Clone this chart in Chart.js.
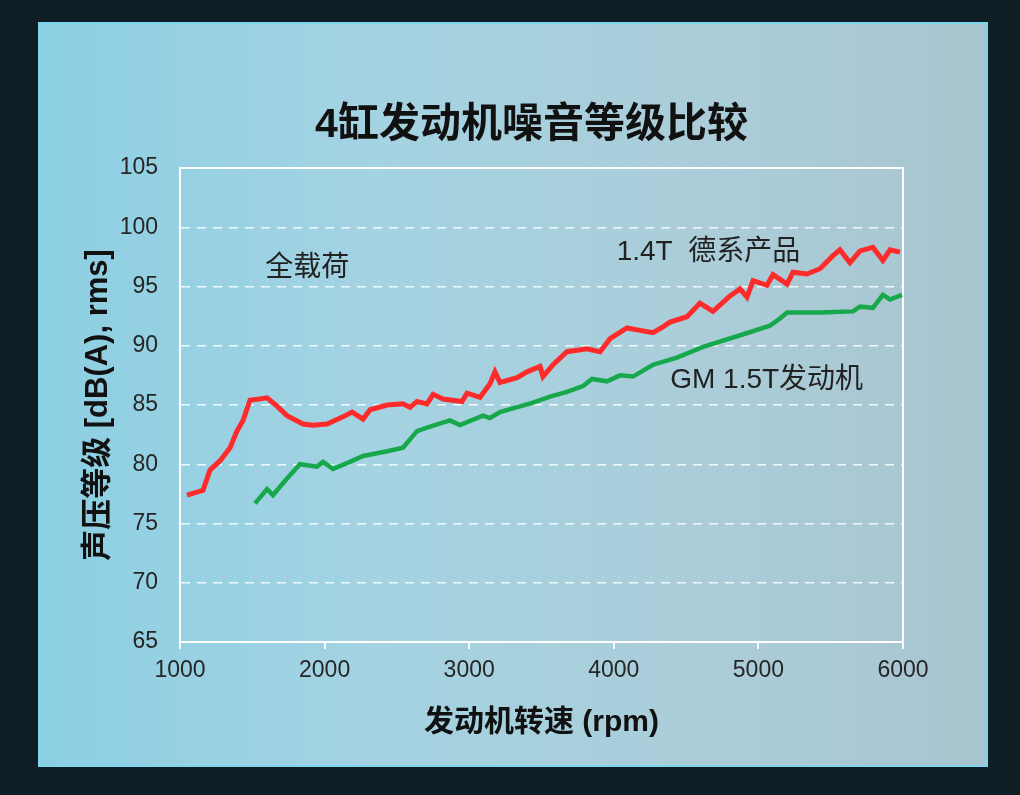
<!DOCTYPE html>
<html>
<head>
<meta charset="utf-8">
<script src="https://cdn.jsdelivr.net/npm/chart.js@4.4.1/dist/chart.umd.min.js"></script>
<style>
  html, body { margin: 0; padding: 0; }
  body { width: 1020px; height: 795px; background: #0f1e24; position: relative; overflow: hidden; }
  #panel { position: absolute; left: 38px; top: 22px; width: 950px; height: 745px;
           background: linear-gradient(90deg, #8ccfe3 0%, #a4d3e2 35%, #abcdd9 70%, #a8c5cf 100%);
           box-shadow: inset 0 0 0 2px #7fd6ea; }
  #wrap { position: absolute; left: 0; top: 0; width: 1020px; height: 795px; }
</style>
</head>
<body>
<div id="panel"></div>
<div id="wrap"><canvas id="chartjs-0" width="1020" height="795"></canvas></div>
<script>
var chartTitle = "4缸发动机噪音等级比较";

// 1.4T 德系产品 (red)
var redRpm = [1048,1159,1207,1277,1346,1394,1436,1484,1602,1671,1740,1851,1920,2017,2127,2190,2266,2314,2432,2542,
  2591,2639,2708,2750,2819,2950,2985,3075,3144,3178,3213,3331,3400,3490,3510,3580,3676,3815,3905,3974,4091,4181,
  4271,4340,4389,4506,4596,4686,4804,4873,4921,4963,5059,5101,5198,5239,5336,5426,5516,5564,5633,5703,5792,
  5861,5910,5979];
var redDb = [77.4,77.8,79.5,80.3,81.4,82.8,83.7,85.4,85.6,84.9,84.1,83.4,83.3,83.4,84.0,84.4,83.8,84.6,85.0,85.1,
  84.8,85.3,85.1,85.9,85.5,85.3,86.0,85.65,86.8,87.8,86.9,87.3,87.8,88.25,87.4,88.4,89.5,89.75,89.5,90.6,91.5,91.3,
  91.1,91.6,92.0,92.45,93.6,92.9,94.2,94.8,94.1,95.5,95.1,96.0,95.2,96.2,96.05,96.5,97.6,98.1,97.0,98.0,98.3,
  97.2,98.1,97.9];

// GM 1.5T发动机 (green)
var greenRpm = [1519,1602,1643,1740,1830,1947,1989,2058,2155,2266,2432,2542,2639,2708,2867,2936,3095,3144,3213,3441,
  3559,3676,3787,3849,3953,4043,4133,4271,4437,4617,4852,5080,5149,5198,5426,5654,5703,5792,5861,5910,5993];
var greenDb = [76.7,77.9,77.4,78.8,80.0,79.8,80.2,79.6,80.1,80.7,81.1,81.4,82.8,83.1,83.7,83.3,84.1,83.9,84.4,85.2,
  85.7,86.1,86.6,87.2,87.0,87.5,87.4,88.4,89.0,89.9,90.8,91.7,92.3,92.8,92.8,92.9,93.3,93.2,94.3,93.9,94.3];

var xTicks = [1000, 2000, 3000, 4000, 5000, 6000];
var yTicks = [65, 70, 75, 80, 85, 90, 95, 100, 105];

// text labels inside the plot, placed in data units
var noteText = ["全载荷", "1.4T  德系产品", "GM 1.5T发动机"];
var noteRpm = [1590, 4020, 4390];
var noteDb = [96.5, 97.9, 87.1];

var fam = '"Liberation Sans", "Noto Sans CJK SC", sans-serif';

function toPoints(xs, ys) {
  var out = [];
  for (var i = 0; i < xs.length; i++) { out.push({x: xs[i], y: ys[i]}); }
  return out;
}

var framePlugin = {
  id: "frame",
  beforeDatasetsDraw: function (chart) {
    var a = chart.chartArea, ctx = chart.ctx;
    ctx.save();
    ctx.strokeStyle = "rgba(255,255,255,0.95)";
    ctx.lineWidth = 2;
    ctx.beginPath();
    ctx.moveTo(a.left, a.top); ctx.lineTo(a.right, a.top); ctx.lineTo(a.right, a.bottom);
    ctx.stroke();
    ctx.restore();
  },
  afterDatasetsDraw: function (chart) {
    var ctx = chart.ctx, xs = chart.scales.x, ys = chart.scales.y;
    ctx.save();
    ctx.fillStyle = "#222";
    ctx.font = "28px " + fam;
    ctx.textBaseline = "middle";
    for (var i = 0; i < noteText.length; i++) {
      ctx.fillText(noteText[i], xs.getPixelForValue(noteRpm[i]), ys.getPixelForValue(noteDb[i]));
    }
    // chart heading, centred a bit right of the plot centre like the slide
    ctx.fillStyle = "#111";
    ctx.font = "bold 41px " + fam;
    ctx.textAlign = "center";
    ctx.fillText(chartTitle, (chart.chartArea.left + chart.chartArea.right) / 2 - 10, chart.chartArea.top - 42);
    ctx.restore();
  }
};

var ctx0 = document.getElementById("chartjs-0");
var myChart = new Chart(ctx0, {
  type: "line",
  data: {
    datasets: [
      { label: "1.4T 德系产品", data: toPoints(redRpm, redDb), borderColor: "#ff2b2b",
        borderWidth: 5, pointRadius: 0, tension: 0, fill: false },
      { label: "GM 1.5T发动机", data: toPoints(greenRpm, greenDb), borderColor: "#17a84c",
        borderWidth: 4.5, pointRadius: 0, tension: 0, fill: false }
    ]
  },
  options: {
    responsive: false,
    animation: false,
    layout: { padding: { left: 80, right: 117, top: 168, bottom: 54 } },
    plugins: {
      legend: { display: false },
      tooltip: { enabled: false },
      title: { display: false }
    },
    scales: {
      x: {
        type: "linear",
        min: 1000, max: 6000,
        afterBuildTicks: function (s) { s.ticks = xTicks.map(function (v) { return {value: v}; }); },
        afterFit: function (s) { s.height = 99; },
        border: { display: true, color: "#ffffff", width: 2 },
        grid: { drawOnChartArea: false, drawTicks: true, tickLength: 7, color: "rgba(255,255,255,0.9)", lineWidth: 2 },
        ticks: { color: "#262626", padding: 8, maxRotation: 0, font: { family: fam, size: 23 },
                 callback: function (v) { return String(v); } },
        title: { display: true, text: "发动机转速 (rpm)", color: "#111", padding: 0,
                 font: { family: fam, size: 30, weight: "bold" } }
      },
      y: {
        min: 65, max: 105,
        afterBuildTicks: function (s) { s.ticks = yTicks.map(function (v) { return {value: v}; }); },
        afterFit: function (s) { s.width = 100; },
        border: { display: true, color: "#ffffff", width: 2, dash: [9, 7] },
        grid: { drawTicks: false, color: "rgba(255,255,255,0.85)", lineWidth: 1.5 },
        ticks: { color: "#262626", padding: 22, font: { family: fam, size: 23 },
                 callback: function (v) { return String(v); } },
        title: { display: true, text: "声压等级 [dB(A), rms]", color: "#111", padding: 0,
                 font: { family: fam, size: 31, weight: "bold" } }
      }
    }
  },
  plugins: [framePlugin]
});
</script>
</body>
</html>
